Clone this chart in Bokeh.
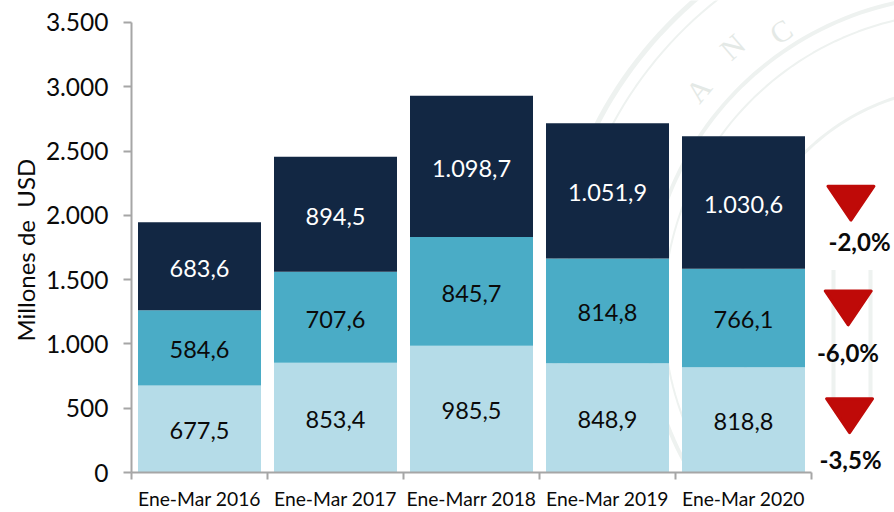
import numpy as np
from bokeh.plotting import figure
from bokeh.models import Range1d, FixedTicker, ColumnDataSource, Title
from bokeh.core.properties import value
from bokeh.embed import file_html
from bokeh.resources import INLINE

categories = ["Ene-Mar 2016", "Ene-Mar 2017", "Ene-Marr 2018", "Ene-Mar 2019", "Ene-Mar 2020"]
bottom_vals = [677.5, 853.4, 985.5, 848.9, 818.8]
middle_vals = [584.6, 707.6, 845.7, 814.8, 766.1]
top_vals = [683.6, 894.5, 1098.7, 1051.9, 1030.6]
y_ticks = [0, 500, 1000, 1500, 2000, 2500, 3000, 3500]
y_labels = ["0", "500", "1.000", "1.500", "2.000", "2.500", "3.000", "3.500"]
changes = ["-3,5%", "-6,0%", "-2,0%"]
change_marker_y = [442, 1280, 2095]
change_marker_x = [5.28, 5.27, 5.29]
change_text_x = [5.287, 5.268, 5.353]
change_text_y = [101, 931, 1793]

FONT = "Lato"
COL_BOTTOM, COL_MIDDLE, COL_TOP = "#b5dce8", "#4aacc6", "#122743"
GREY = "#a6a6a6"
WM = "#eef2f0"

W, H = 894, 512
LEFT, BOTTOM = 131, 39
UNITS_PER_CAT = 136.0
PX_PER_Y = 451 / 3500.0

p = figure(width=W, height=H, output_backend="svg", toolbar_location=None,
           x_range=Range1d(0, (W - LEFT) / UNITS_PER_CAT),
           y_range=Range1d(0, (H - BOTTOM) / PX_PER_Y),
           min_border_left=LEFT, min_border_bottom=BOTTOM, min_border_top=0, min_border_right=0,
           outline_line_color=None, background_fill_color=None, border_fill_color="white")
p.grid.visible = False


def to_data(px, py):
    return (np.asarray(px) - LEFT) / UNITS_PER_CAT, (H - BOTTOM - np.asarray(py)) / PX_PER_Y


# faint seal in the background
CX, CY = 963, 312
def ring(radius, a0, a1):
    a = np.radians(np.linspace(a0, a1, 80))
    return to_data(CX + radius * np.cos(a), CY - radius * np.sin(a))

for r, lw in [(317, 4), (412, 5), (398, 2), (225, 3), (300, 2)]:
    xs, ys = ring(r, 90, 215)
    p.line(xs, ys, line_color=WM, line_width=lw, level="underlay")
for px in [833, 870]:
    xs, ys = to_data([px, px], [270, 400])
    p.line(xs, ys, line_color=WM, line_width=4, level="underlay")
for ch, ang, rad in zip("ANC", [140, 131, 123], [346, 352, 335]):
    xs, ys = ring(rad, ang, ang)
    p.text([xs[0]], [ys[0]], text=[ch], angle=[np.radians(ang - 90)], text_align="center",
           text_baseline="middle", text_color="#e4e9e6", text_font=value("Liberation Serif"),
           text_font_size="30px", level="underlay")

x = np.arange(5) + 0.5
width = 123 / 136
b = np.array(bottom_vals)
m = np.array(middle_vals)
t = np.array(top_vals)
for lo, hi, col in [(0 * b, b, COL_BOTTOM), (b, b + m, COL_MIDDLE), (b + m, b + m + t, COL_TOP)]:
    p.vbar(x=x, width=width, bottom=lo, top=hi, fill_color=col, line_color=None)


def fmt(v):
    s = f"{v:,.1f}"
    return s.replace(",", "#").replace(".", ",").replace("#", ".")


for lo, vals, col in [(0 * b, b, "#0a0a0a"), (b, m, "#0a0a0a"), (b + m, t, "#ffffff")]:
    src = ColumnDataSource(dict(x=x, y=lo + np.array(vals) / 2 - 14, t=[fmt(v) for v in vals]))
    p.text("x", "y", text="t", source=src, text_align="center", text_baseline="middle",
           text_color=col, text_font=value(FONT), text_font_size="23.5px")

HW, HH = 23 / UNITS_PER_CAT, 17 / PX_PER_Y
tri_x = [[cx - HW, cx + HW, cx] for cx in change_marker_x]
tri_y = [[cy + HH, cy + HH, cy - HH] for cy in change_marker_y]
p.patches(tri_x, tri_y, fill_color="#bf0a08", line_color="#bf0a08", line_width=3, line_join="round")
p.text(change_text_x, change_text_y, text=changes, text_align="center", text_baseline="middle",
       text_color="#0a0a0a", text_font=value(FONT), text_font_style="bold", text_font_size="24px")

xa = p.xaxis[0]
xa.bounds = (0, 5)
xa.ticker = FixedTicker(ticks=list(x), minor_ticks=[0, 1, 2, 3, 4, 5])
xa.major_label_overrides = {float(v): c for v, c in zip(x, categories)}
xa.major_tick_line_color = None
xa.major_tick_out = 0
xa.major_tick_in = 0
xa.minor_tick_in = 0
xa.minor_tick_out = 7
xa.minor_tick_line_color = GREY
xa.minor_tick_line_width = 2
xa.axis_line_color = GREY
xa.axis_line_width = 2
xa.major_label_text_font = FONT
xa.major_label_text_font_size = "19.3px"
xa.major_label_text_color = "#0a0a0a"
xa.major_label_standoff = 7

ya = p.yaxis[0]
ya.bounds = (0, 3500)
ya.ticker = FixedTicker(ticks=y_ticks)
ya.major_label_overrides = dict(zip(y_ticks, y_labels))
ya.minor_tick_line_color = None
ya.major_tick_in = 0
ya.major_tick_out = 8
ya.major_tick_line_color = GREY
ya.major_tick_line_width = 2
ya.axis_line_color = GREY
ya.axis_line_width = 2
ya.major_label_text_font = FONT
ya.major_label_text_font_size = "24.5px"
ya.major_label_text_color = "#0a0a0a"
ya.major_label_standoff = 15

p.add_layout(Title(text="Millones de\u00a0 USD", align="left", offset=131, standoff=6,
                   text_font=FONT, text_font_size="24px", text_font_style="normal",
                   text_color="#0a0a0a"), "left")

open("out.html", "w").write(file_html(p, INLINE))
